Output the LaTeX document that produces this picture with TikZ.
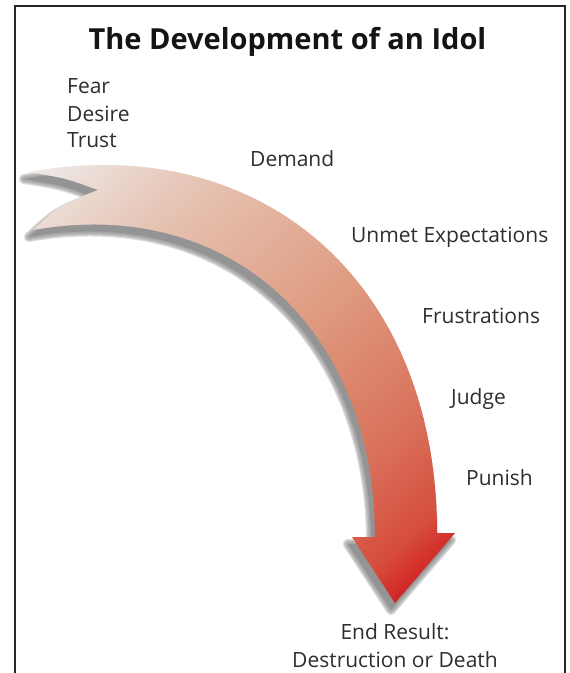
\documentclass[tikz,border=0pt]{standalone}
\usepackage{fontspec}
\setmainfont{Open Sans}
\definecolor{txt}{HTML}{2E2E2E}
\definecolor{g0}{HTML}{EEE9E7}
\definecolor{g1}{HTML}{E6C4B4}
\definecolor{g2}{HTML}{DF9C82}
\definecolor{g3}{HTML}{D9705A}
\definecolor{g4}{HTML}{D64E3C}
\definecolor{g5}{HTML}{D22424}
\def\arrowpath{(28,172) .. controls (260,130) and (437,280) .. (437,533) -- (455,533) -- (395,603) -- (352,537) -- (375,537) .. controls (375,330) and (230,195) .. (33,230) .. controls (60,205) .. (98,190) .. controls (65,178) .. cycle}
\tikzset{
  lbl/.style={anchor=base west, inner sep=0pt, text=txt, font=\fontsize{21}{25}\selectfont},
  lblc/.style={lbl, anchor=base},
  frame/.style={line width=1.6pt, black!85},
}
\begin{document}
\begin{tikzpicture}[x=1pt, y=-1pt]
\useasboundingbox (0,0) rectangle (570,673);
\fill[white] (0,0) rectangle (570,673);
\draw[frame] (15,680) -- (15,6) -- (565,6) -- (565,680);
% soft shadow
\begin{scope}[transparency group, opacity=0.42]
\begin{scope}[shift={(-4,7)}]
\foreach \w in {10,8,6,4,2}{
  \draw[black, opacity=0.3, line width=\w pt, line join=round] \arrowpath;
}
\fill[black] \arrowpath;
\end{scope}
\end{scope}
% gradient arrow
\begin{scope}
\clip \arrowpath;
\begin{scope}[shift={(40,170)}, rotate=-48.5]
\foreach \i in {-20,...,125}{
  \pgfmathsetmacro\u{\i*5+2.5}
  \ifdim\u pt<0pt \colorlet{cc}{g0}%
  \else\ifdim\u pt<113pt \pgfmathsetmacro\p{\u/113*100}\colorlet{cc}{g1!\p!g0}%
  \else\ifdim\u pt<289pt \pgfmathsetmacro\p{(\u-113)/176*100}\colorlet{cc}{g2!\p!g1}%
  \else\ifdim\u pt<439pt \pgfmathsetmacro\p{(\u-289)/150*100}\colorlet{cc}{g3!\p!g2}%
  \else\ifdim\u pt<520pt \pgfmathsetmacro\p{(\u-439)/81*100}\colorlet{cc}{g4!\p!g3}%
  \else\ifdim\u pt<560pt \pgfmathsetmacro\p{(\u-520)/40*100}\colorlet{cc}{g5!\p!g4}%
  \else \colorlet{cc}{g5}%
  \fi\fi\fi\fi\fi\fi
  \fill[cc] (\i*5-0.4,-700) rectangle (\i*5+5.4,700);
}
\end{scope}
\end{scope}
% texts
\node[anchor=base, inner sep=0pt, font=\fontsize{29}{34}\selectfont\bfseries, text=black!92] (title) at (287.5,49.5) {The Development of an Idol};
\node[lbl] (fear) at (67,93) {Fear};
\node[lbl] (desire) at (67,121) {Desire};
\node[lbl] (trust) at (67,147) {Trust};
\node[lbl] (demand) at (250,166) {Demand};
\node[lbl] (unmet) at (351,242) {Unmet Expectations};
\node[lbl] (frus) at (422,323) {Frustrations};
\node[lbl] (judge) at (451,404) {Judge};
\node[lbl] (punish) at (466,485) {Punish};
\node[lblc] (end) at (395,639) {End Result:};
\node[lblc] (death) at (395,667) {Destruction or Death};
\end{tikzpicture}
\end{document}
